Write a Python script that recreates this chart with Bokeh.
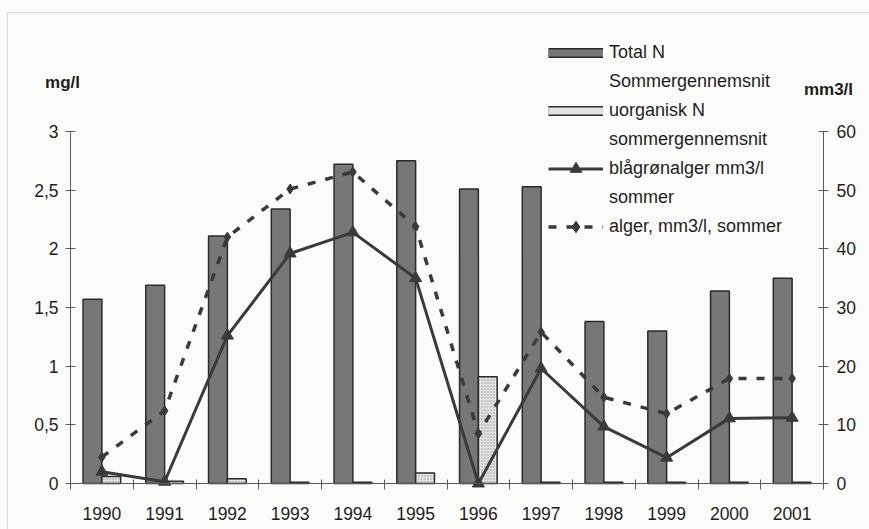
import numpy as np
from bokeh.plotting import figure
from bokeh.models import (Range1d, LinearAxis, FixedTicker, CustomJSTickFormatter,
                          Legend, LegendItem, Label, ColumnDataSource, BoxAnnotation)
from bokeh.transform import dodge
from bokeh.embed import file_html
from bokeh.resources import INLINE

years = ["1990", "1991", "1992", "1993", "1994", "1995",
         "1996", "1997", "1998", "1999", "2000", "2001"]
total_n = [1.57, 1.69, 2.11, 2.34, 2.72, 2.75, 2.51, 2.53, 1.38, 1.30, 1.64, 1.75]
uorg_n = [0.06, 0.02, 0.04, 0.01, 0.01, 0.09, 0.91, 0.01, 0.01, 0.01, 0.01, 0.01]
blaagroen = [2.0, 0.3, 25.2, 39.2, 42.8, 35.0, 0.0, 19.6, 9.7, 4.4, 11.1, 11.2]
alger = [4.5, 12.4, 42.0, 50.2, 53.1, 43.8, 8.5, 25.8, 14.7, 11.9, 17.9, 17.9]

left_ticks = [0, 0.5, 1, 1.5, 2, 2.5, 3]
right_ticks = [0, 10, 20, 30, 40, 50, 60]

FONT = "Liberation Sans"
BG = "#fbfbf9"
DARK = "#3a3a3a"
BAR = "#777777"
BAR_LIGHT = "#e2e2e2"
EDGE = "#2b2b2b"

W, H = 869, 529
# pixel placement of the axes box inside the canvas
PX_L, PX_R, PX_T, PX_B = 70, 823, 131, 483
n = len(years)
ppx = (PX_R - PX_L) / n
ppy = (PX_B - PX_T) / 3.0
x_start, x_end = -PX_L / ppx, n + (W - PX_R) / ppx
y_start, y_end = -(H - PX_B) / ppy, 3 + PX_T / ppy
k = right_ticks[-1] / left_ticks[-1]

src = ColumnDataSource(dict(
    x=np.arange(n) + 0.5,
    total=total_n, uorg=uorg_n, blaa=blaagroen, alger=alger,
))
# a source with no drawable point, used only for legend swatches
nodraw = ColumnDataSource(dict(x=[np.nan], y=[np.nan]))

p = figure(width=W, height=H, x_range=Range1d(x_start, x_end), y_range=Range1d(y_start, y_end),
           output_backend="svg", toolbar_location=None,
           min_border=0, min_border_left=0, min_border_right=0,
           min_border_top=0, min_border_bottom=0)
p.background_fill_color = BG
p.border_fill_color = BG
p.outline_line_color = None
p.grid.visible = False
p.extra_y_ranges = {"right": Range1d(y_start * k, y_end * k)}

# scanned page frame
p.add_layout(BoxAnnotation(left=7, right=W + 20, bottom=-20, top=H - 12,
                           left_units="screen", right_units="screen",
                           top_units="screen", bottom_units="screen",
                           fill_alpha=0, line_color="#8c8c8c", line_width=1.2))

# bars
b1 = p.vbar(x=dodge("x", -0.15), top="total", width=0.3, source=src,
            fill_color=BAR, line_color=EDGE, line_width=1.5)
b2 = p.vbar(x=dodge("x", 0.15), top="uorg", width=0.3, source=src,
            fill_color=BAR_LIGHT, line_color=EDGE, line_width=1.5,
            hatch_pattern="dot", hatch_color="#9a9a9a", hatch_scale=3, hatch_weight=1)

# lines
l1 = p.line(x="x", y="blaa", source=src, y_range_name="right",
            line_color=DARK, line_width=3)
m1 = p.scatter(x="x", y="blaa", source=src, y_range_name="right", marker="triangle",
               size=12, fill_color=DARK, line_color=DARK)
l2 = p.line(x="x", y="alger", source=src, y_range_name="right",
            line_color=DARK, line_width=3.5, line_dash="8 10")
m2 = p.scatter(x="x", y="alger", source=src, y_range_name="right", marker="diamond",
               size=10, fill_color=DARK, line_color=DARK)

# legend-only swatches
blank = p.line(x="x", y="y", source=nodraw, line_alpha=0)
lg1a = p.line(x="x", y="y", source=nodraw, line_color=EDGE, line_width=10, line_cap="butt")
lg1b = p.line(x="x", y="y", source=nodraw, line_color=BAR, line_width=7, line_cap="butt")
lg2a = p.line(x="x", y="y", source=nodraw, line_color=EDGE, line_width=10, line_cap="butt")
lg2b = p.line(x="x", y="y", source=nodraw, line_color=BAR_LIGHT, line_width=7, line_cap="butt")

# x axis
xa = p.xaxis[0]
xa.fixed_location = 0
xa.bounds = (0, n)
xa.ticker = FixedTicker(ticks=[i + 0.5 for i in range(n)], minor_ticks=list(range(n + 1)))
xa.formatter = CustomJSTickFormatter(args=dict(years=years),
                                     code="return years[Math.floor(tick)];")
xa.major_tick_in = 0
xa.major_tick_out = 0
xa.minor_tick_in = 4
xa.minor_tick_out = 6
xa.major_label_standoff = 17

# left axis
ya = p.yaxis[0]
ya.fixed_location = 0
ya.bounds = (0, 3)
ya.ticker = FixedTicker(ticks=left_ticks)
ya.formatter = CustomJSTickFormatter(code="return tick.toString().replace('.', ',');")
ya.major_tick_in = 5
ya.major_tick_out = 5
ya.major_label_standoff = 7

# right axis
ra = LinearAxis(y_range_name="right", ticker=FixedTicker(ticks=right_ticks))
ra.fixed_location = n
ra.bounds = (0, right_ticks[-1])
ra.major_tick_in = 5
ra.major_tick_out = 5
ra.major_label_standoff = 8
p.add_layout(ra, "right")

for ax in [xa, ya, ra]:
    ax.axis_line_color = "#5a5a5a"
    ax.major_tick_line_color = "#5a5a5a"
    ax.minor_tick_line_color = "#5a5a5a" if ax is xa else None
    ax.major_label_text_font = FONT
    ax.major_label_text_font_size = "17.5px"
    ax.major_label_text_color = "#1e1e1e"

# axis unit labels
p.add_layout(Label(x=-8 / ppx, y=3 + 49 / ppy, text="mg/l",
                   text_align="center", text_baseline="middle", text_font=FONT,
                   text_font_style="bold", text_font_size="17px", text_color="#1e1e1e"))
p.add_layout(Label(x=n + 5 / ppx, y=3 + 42 / ppy, text="mm3/l",
                   text_align="center", text_baseline="middle", text_font=FONT,
                   text_font_style="bold", text_font_size="17px", text_color="#1e1e1e"))

legend = Legend(items=[
    LegendItem(label="Total N", renderers=[lg1a, lg1b]),
    LegendItem(label="Sommergennemsnit", renderers=[blank]),
    LegendItem(label="uorganisk N", renderers=[lg2a, lg2b]),
    LegendItem(label="sommergennemsnit", renderers=[blank]),
    LegendItem(label="blågrønalger mm3/l", renderers=[l1, m1]),
    LegendItem(label="sommer", renderers=[blank]),
    LegendItem(label="alger, mm3/l, sommer", renderers=[l2, m2]),
], location=(548, H - 241))
legend.border_line_color = None
legend.background_fill_alpha = 0
legend.glyph_width = 55
legend.glyph_height = 29
legend.label_height = 29
legend.label_text_font = FONT
legend.label_text_font_size = "18px"
legend.label_text_color = "#1e1e1e"
legend.label_standoff = 6
legend.spacing = 0
legend.padding = 0
legend.margin = 0
p.add_layout(legend, "center")

open("out.html", "w").write(file_html(p, INLINE))
